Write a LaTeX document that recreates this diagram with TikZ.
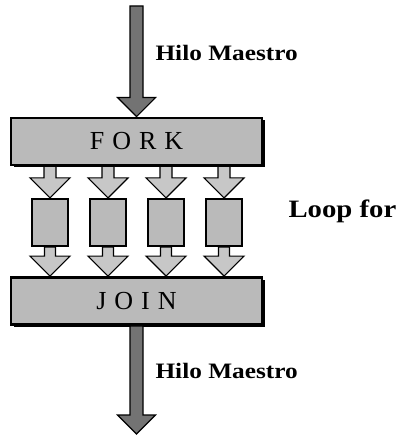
\documentclass[tikz,border=0pt]{standalone}
\usepackage{fontspec}
\setmainfont{Liberation Serif}
\newfontfamily\labelfont[FakeStretch=1.15,UprightFont={* Bold}]{Liberation Serif}
\usetikzlibrary{calc}
\usetikzlibrary{shadows}

\begin{document}
\begin{tikzpicture}[x=1pt, y=-1pt,
    bigbox/.style={draw, line width=2.8pt, fill=black!27, minimum width=251pt, minimum height=47pt,
        inner sep=0pt, font=\fontsize{26}{26}\selectfont,
        drop shadow={shadow xshift=2.5pt, shadow yshift=-2.5pt, fill=black, opacity=1}},
    taskbox/.style={draw, line width=2.2pt, fill=black!27, minimum width=36pt, minimum height=47pt, inner sep=0pt},
    fatarrow/.style n args={3}{draw, line width=1.2pt, line join=miter,
        to path={let \p1=(\tikztostart), \p2=(\tikztotarget) in
            (\x1-#1,\y1) -- (\x1+#1,\y1) -- (\x1+#1,\y2+#3) -- (\x1+#2,\y2+#3) -- (\x1,\y2)
            -- (\x1-#2,\y2+#3) -- (\x1-#1,\y2+#3) -- cycle}},
    hilo/.style={anchor=base west, font=\labelfont\fontsize{22}{22}\selectfont}]
    \useasboundingbox (0,0) rectangle (399,435);

    \def\sp{\kern8pt}
    \node[bigbox] (fork) at (136.5, 141.5) {F\sp O\sp R\sp K};
    \node[bigbox] (join) at (136.5, 301) {J\sp O\sp I\sp N};
    \coordinate (src) at (136.5, 6);
    \coordinate (sink) at (136.5, 434);

    % hilos del loop
    \foreach \i/\x in {1/50, 2/108, 3/166, 4/224} {
        \node[taskbox] (t\i) at (\x, 222.5) {};
        \draw[fatarrow={6pt}{20pt}{20pt}, fill=black!22] (fork.south -| t\i.north) to (t\i.north);
        \draw[fatarrow={5.5pt}{20pt}{20pt}, fill=black!22] (t\i.south) to (join.north -| t\i.south);
    }

    \draw[fatarrow={6.5pt}{19pt}{19pt}, fill=black!55] (src) to (fork.north);
    \draw[fatarrow={6.5pt}{19pt}{19pt}, fill=black!55] (join.south) to (sink);

    \node[hilo] (hilo1) at (152, 61) {Hilo Maestro};
    \node[hilo] (hilo2) at (152, 378) {Hilo Maestro};
    \node[anchor=base west, font=\labelfont\fontsize{25}{25}\selectfont] (loop) at (285, 217) {Loop for};

    \end{tikzpicture}
\end{document}
